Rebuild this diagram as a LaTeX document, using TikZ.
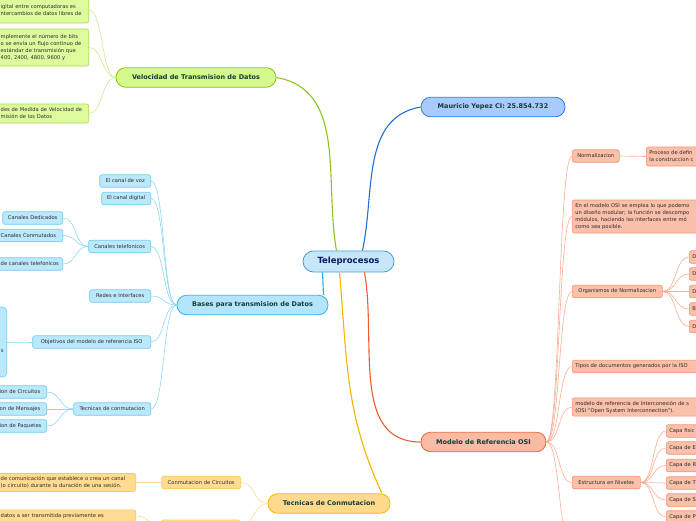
\documentclass[tikz,border=0pt]{standalone}
\usepackage{fontspec}
\setmainfont{DejaVu Sans}
\usepackage{tikz}
\usetikzlibrary{positioning}

\definecolor{teleFill}{HTML}{C6E7FA}\definecolor{teleDraw}{HTML}{4A9FDB}
\definecolor{veloFill}{HTML}{D5F98A}\definecolor{veloDraw}{HTML}{8DC21F}
\definecolor{veloLeaf}{HTML}{DDFB9C}\definecolor{veloLeafDraw}{HTML}{A9DA4E}\definecolor{veloLink}{HTML}{C9EA95}
\definecolor{mauFill}{HTML}{A9CBFB}\definecolor{mauDraw}{HTML}{2F7DE1}\definecolor{mauLink}{HTML}{1F6FD6}
\definecolor{baseFill}{HTML}{B3E5FC}\definecolor{baseDraw}{HTML}{3AB0EA}\definecolor{baseLink}{HTML}{29A9E1}
\definecolor{baseLeaf}{HTML}{BCE8FC}\definecolor{baseLeafDraw}{HTML}{6FCBF4}\definecolor{baseLeafLink}{HTML}{8ED8F7}
\definecolor{osiFill}{HTML}{F9BBA4}\definecolor{osiDraw}{HTML}{F0673A}\definecolor{osiLink}{HTML}{F15A29}
\definecolor{osiLeaf}{HTML}{FBC0A9}\definecolor{osiLeafDraw}{HTML}{F7946F}\definecolor{osiLeafLink}{HTML}{F9AE92}
\definecolor{tecFill}{HTML}{FFDA8C}\definecolor{tecDraw}{HTML}{F8B617}\definecolor{tecLink}{HTML}{FAB400}
\definecolor{tecLeaf}{HTML}{FFDC92}\definecolor{tecLeafDraw}{HTML}{FCC95A}\definecolor{tecLeafLink}{HTML}{FDDB92}
\definecolor{topicText}{HTML}{123B3A}\definecolor{leafText}{HTML}{2B2B2B}

\newcommand*{\LinksLeft}[3]{% #1 = parent point, #2 = list of child points, #3 = style
\foreach \kid in {#2} {
\draw [#3] (#1) .. controls +(-14,0) and +(14,0) .. (\kid);
}%
}
\newcommand*{\LinksRight}[3]{% #1 = parent point, #2 = list of child points, #3 = style
\foreach \kid in {#2} {
\draw [#3] (#1) .. controls +(14,0) and +(-14,0) .. (\kid);
}%
}

\begin{document}
\begin{tikzpicture}[x=1pt,y=-1pt,
    topic/.style={draw, line width=0.8pt, rounded corners=9.5pt, minimum height=19.5pt,
        inner xsep=8pt, font=\fontsize{6.5}{8}\selectfont\bfseries, text=topicText},
    leaf/.style={draw, line width=0.6pt, rounded corners=2pt, inner xsep=3pt, inner ysep=3pt,
        minimum height=12.5pt, font=\fontsize{5.2}{7}\selectfont, text=leafText},
    gleaf/.style={leaf, fill=veloLeaf, draw=veloLeafDraw},
    bleaf/.style={leaf, fill=baseLeaf, draw=baseLeafDraw},
    oleaf/.style={leaf, fill=osiLeaf, draw=osiLeafDraw},
    yleaf/.style={leaf, fill=tecLeaf, draw=tecLeafDraw},
    glink/.style={veloLink, line width=0.6pt},
    blink/.style={baseLeafLink, line width=0.6pt},
    olink/.style={osiLeafLink, line width=0.6pt},
    ylink/.style={tecLeafLink, line width=0.6pt},
    trunk/.style={line width=1.1pt}]

    \useasboundingbox (0,0) rectangle (696,520);
    \clip (0,0) rectangle (696,520);

    % centre and main topics
    \node [draw=teleDraw, fill=teleFill, line width=0.8pt, rounded corners=10.5pt,
        minimum width=91pt, minimum height=21pt, font=\fontsize{8.5}{10}\selectfont\bfseries,
        text=topicText!60!blue!70!black] (tele) at (348.5,261.5) {Teleprocesos};
    \node [topic, fill=veloFill, draw=veloDraw, minimum width=160pt] (velo) at (196,77.5) {Velocidad de Transmision de Datos};
    \node [topic, fill=mauFill, draw=mauDraw, minimum width=144pt] (mau) at (493,107) {Mauricio Yepez CI: 25.854.732};
    \node [topic, fill=baseFill, draw=baseDraw, minimum width=151pt] (bases) at (252.5,305) {Bases para transmision de Datos};
    \node [topic, fill=osiFill, draw=osiDraw, minimum width=125pt] (osi) at (483.5,442) {Modelo de Referencia OSI};
    \node [topic, fill=tecFill, draw=tecDraw, minimum width=122pt] (tecn) at (329,503.5) {Tecnicas de Conmutacion};

    \draw [trunk, veloDraw] ([xshift=-12pt]tele.north) to[out=100,in=-10] (velo.east);
    \draw [trunk, mauLink] ([xshift=14pt]tele.north) to[out=78,in=190] (mau.west);
    \draw [trunk, baseLink] ([xshift=-26pt]tele.south) -- ([xshift=71pt]bases.north);
    \draw [trunk, tecLink] ([xshift=-9pt]tele.south) to[out=-85,in=115] ([xshift=53pt]tecn.north);
    \draw [trunk, osiLink] ([xshift=16pt]tele.south) to[out=-80,in=180] (osi.west);

    % Velocidad de Transmision de Datos
    \node [gleaf, anchor=east, text width=85pt, align=left, minimum height=26pt] (v1) at (89,10)
        {igital entre computadoras es\\ntercambios de datos libres de};
    \node [gleaf, anchor=east, text width=85pt, align=left, minimum height=37pt] (v2) at (89,47.5)
        {mplemente el número de bits\\o se envía un flujo continuo de\\estándar de transmisión que\\400, 2400, 4800, 9600 y};
    \node [gleaf, anchor=east, text width=85pt, align=left, minimum height=19pt] (v3) at (89,113.5)
        {des de Medida de Velocidad de\\misión de los Datos};
    \LinksLeft{velo.west}{v1.east,v2.east,v3.east}{glink}

    % Bases para transmision de Datos
    \node [bleaf, anchor=east, minimum width=51pt] (voz) at (151,181) {El canal de voz};
    \node [bleaf, anchor=east, minimum width=49pt] (dig) at (151,198.5) {El canal digital};
    \node [bleaf, anchor=east, minimum width=62pt] (ct) at (151,246.5) {Canales telefonicos};
    \node [bleaf, anchor=east, minimum width=61pt] (redes) at (151,296) {Redes e Interfaces};
    \node [bleaf, anchor=east, minimum width=118pt] (obj) at (151,342) {Objetivos del modelo de referencia ISO};
    \node [bleaf, anchor=east, minimum width=77pt] (tc) at (151,409) {Tecnicas de conmutacion};
    \LinksLeft{bases.west}{voz.east,dig.east,ct.east,redes.east,obj.east,tc.east}{blink}

    \node [bleaf, anchor=east, minimum width=60pt] (cd) at (63,218) {Canales Dedicados};
    \node [bleaf, anchor=east, text width=59pt, align=left] (cm) at (63,235.5) {Canales Conmutados};
    \node [bleaf, anchor=east, text width=59pt, align=left] (ctt) at (63,264) {de canales telefonicos};
    \LinksLeft{ct.west}{cd.east,cm.east,ctt.east}{blink}

    \node [bleaf, anchor=east, text width=4pt, align=right, minimum height=70pt, rounded corners=4pt] (objx) at (7,342)
        {\mbox{}\\\mbox{}\\\mbox{}\\s};
    \LinksLeft{obj.west}{objx.east}{blink}

    \node [bleaf, anchor=east, text width=44pt, align=left] (tc1) at (47,392) {ion de Circuitos};
    \node [bleaf, anchor=east, text width=44pt, align=left] (tc2) at (47,409) {on de Mensajes};
    \node [bleaf, anchor=east, text width=44pt, align=left] (tc3) at (47,426) {ion de Paquetes};
    \LinksLeft{tc.west}{tc1.east,tc2.east,tc3.east}{blink}

    % Tecnicas de Conmutacion
    \node [yleaf, anchor=east, minimum width=79pt] (cc) at (241,482.5) {Conmutacion de Circuitos};
    \node [yleaf, anchor=north east, minimum width=78pt, minimum height=13pt] (cmsj) at (240,519.5) {};
    \LinksLeft{tecn.west}{cc.east,cmsj.east}{ylink}

    \node [yleaf, anchor=east, text width=132pt, align=left, minimum height=18pt] (ccx) at (136,482.5)
        {de comunicación que establece o crea un canal\\(o circuito) durante la duración de una sesión.};
    \node [yleaf, anchor=north east, text width=132pt, align=left, inner ysep=2.5pt] (cmx) at (136,509.5)
        {datos a ser transmitida previamente es};
    \LinksLeft{cc.west}{ccx.east}{ylink}
    \LinksLeft{cmsj.west}{cmx.east}{ylink}

    % Modelo de Referencia OSI
    \node [oleaf, anchor=west, minimum width=47pt] (norm) at (572,156) {Normalizacion};
    \node [oleaf, anchor=west, text width=130pt, align=left, minimum height=33pt] (modu) at (572,216.5)
        {En el modelo OSI se emplea lo que podemo\\un diseño modular; la función se descompo\\módulos, haciendo las interfaces entre mó\\como sea posible.};
    \node [oleaf, anchor=west, minimum width=90pt] (org) at (572,291.5) {Organismos de Normalizacion};
    \node [oleaf, anchor=west, text width=130pt, align=left] (tipos) at (572,366.5) {Tipos de documentos generados por la ISO};
    \node [oleaf, anchor=west, text width=130pt, align=left, minimum height=18pt] (inter) at (572,407)
        {modelo de referencia de Interconexión de s\\(OSI “Open System Interconnection”).};
    \node [oleaf, anchor=west, minimum width=68pt] (niv) at (572,482.5) {Estructura en Niveles};
    \coordinate (osiMore) at (572,545);
    \LinksRight{osi.east}{norm.west,modu.west,org.west,tipos.west,inter.west,niv.west,osiMore}{olink}

    \node [oleaf, anchor=west, text width=60pt, align=left, minimum height=19pt] (proc) at (646,156.5)
        {Proceso de defin\\la construccion c};
    \LinksRight{norm.east}{proc.west}{olink}

    \foreach \y/\txt [count=\i] in {257/D, 274/D, 291.5/D, 309/B, 326.5/D} {
        \node [oleaf, anchor=west, text width=20pt, align=left] (org\i) at (689,\y) {\txt};
    }
    \LinksRight{org.east}{org1.west,org2.west,org3.west,org4.west,org5.west}{olink}

    \foreach \y/\txt [count=\i] in {431/Capa fisic, 448/Capa de E, 465.5/Capa de R, 483/Capa de T, 500/Capa de S, 517/Capa de P} {
        \node [oleaf, anchor=west, text width=40pt, align=left] (capa\i) at (666,\y) {\txt};
    }
    \LinksRight{niv.east}{capa1.west,capa2.west,capa3.west,capa4.west,capa5.west,capa6.west}{olink}

\end{tikzpicture}
\end{document}
